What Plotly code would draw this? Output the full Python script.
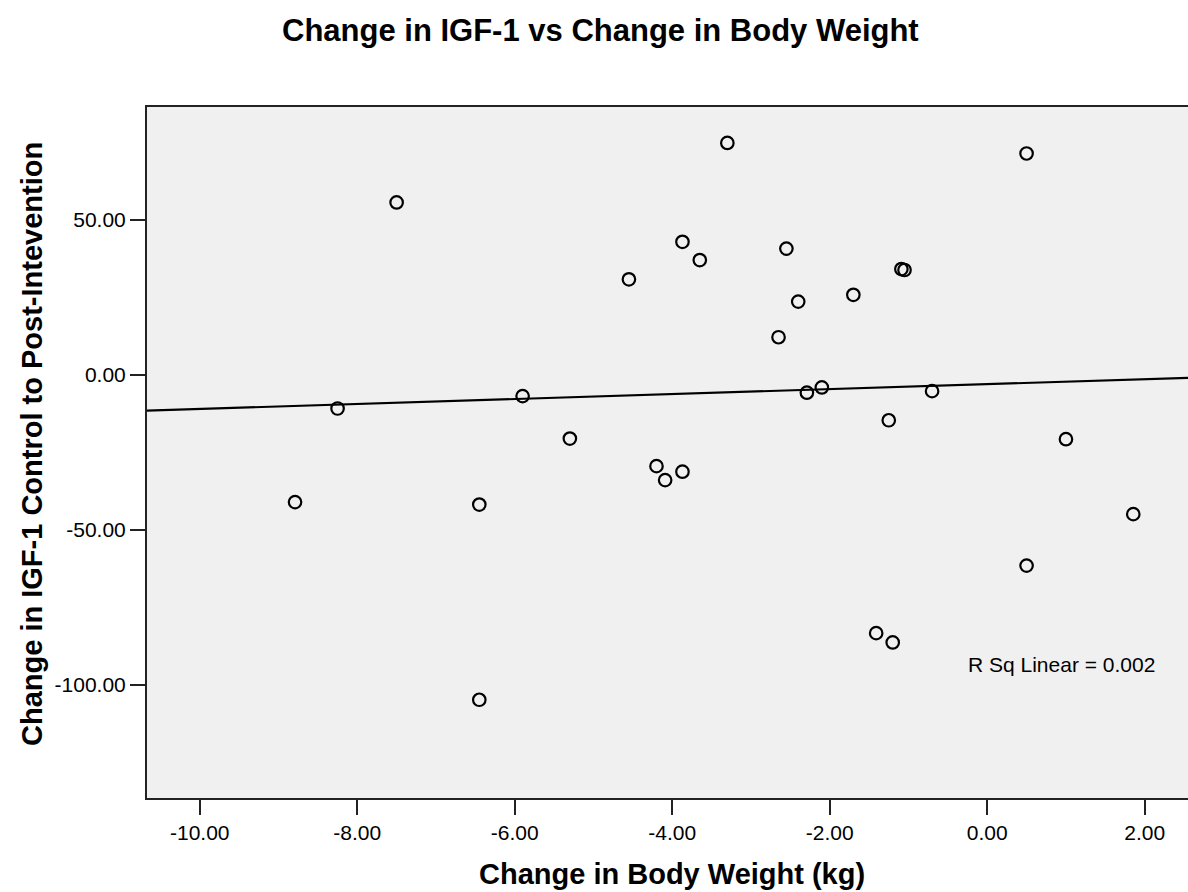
import numpy as np
import plotly.graph_objects as go

# Data
weight_change = [-7.50, -4.55, -8.25, -5.90, -5.30, -3.30, 0.50, -3.87, -3.65, -2.55,
                 -1.09, -1.05, -1.70, -2.40, -2.65, -2.29, -2.10, -0.70, -1.25, 1.00,
                 -8.79, -6.45, -6.45, -4.20, -4.09, -3.87, 1.855, 0.50, -1.41, -1.20]
igf_change = [55.7, 30.9, -10.8, -6.8, -20.5, 74.9, 71.5, 43.0, 37.1, 40.8,
              34.2, 33.9, 25.9, 23.7, 12.2, -5.7, -4.0, -5.2, -14.6, -20.7,
              -41.0, -41.8, -104.8, -29.4, -33.9, -31.2, -44.9, -61.5, -83.3, -86.3]

x_ticks = [-10, -8, -6, -4, -2, 0, 2]
x_tick_labels = ["-10.00", "-8.00", "-6.00", "-4.00", "-2.00", "0.00", "2.00"]
y_ticks = [-100, -50, 0, 50]
y_tick_labels = ["-100.00", "-50.00", "0.00", "50.00"]

x_range = [-10.67, 2.55]
y_range = [-136.5, 86.5]

title_text = "Change in IGF-1 vs Change in Body Weight"
x_title = "Change in Body Weight (kg)"
y_title = "Change in IGF-1 Control to Post-Intevention"
r2_text = "R Sq Linear = 0.002"

# linear fit line
slope, intercept = np.polyfit(weight_change, igf_change, 1)
fit_x = np.array(x_range)
fit_y = slope * fit_x + intercept

FONT = "Liberation Sans, Arial, sans-serif"

fig = go.Figure()
fig.add_trace(go.Scatter(
    x=list(fit_x), y=list(fit_y), mode="lines",
    line=dict(color="black", width=2.2), hoverinfo="skip", showlegend=False))
fig.add_trace(go.Scatter(
    x=weight_change, y=igf_change, mode="markers",
    marker=dict(symbol="circle-open", size=12.5, color="black",
                line=dict(width=2.2, color="black")),
    showlegend=False))

fig.update_layout(
    width=1188, height=892,
    margin=dict(l=147, r=0, t=107, b=94),
    paper_bgcolor="white",
    plot_bgcolor="#F0F0F0",
    font=dict(family=FONT, color="black", size=21),
    showlegend=False,
)
fig.update_xaxes(
    range=x_range, tickvals=x_ticks, ticktext=x_tick_labels,
    showgrid=False, zeroline=False,
    showline=True, linecolor="#222222", linewidth=2, mirror=True,
    ticks="outside", ticklen=15, tickwidth=2, tickcolor="#222222",
    tickfont=dict(size=21, family=FONT, color="black"),
)
fig.update_yaxes(
    range=y_range, tickvals=y_ticks, ticktext=y_tick_labels,
    showgrid=False, zeroline=False,
    showline=True, linecolor="#222222", linewidth=2, mirror=False,
    ticks="outside", ticklen=15, tickwidth=2, tickcolor="#222222",
    tickfont=dict(size=21, family=FONT, color="black"),
)

fig.add_annotation(text="<b>" + title_text + "</b>", xref="paper", yref="paper",
                   x=(600 - 147) / 1041, y=1 + (107 - 31) / 691,
                   xanchor="center", yanchor="middle", showarrow=False,
                   font=dict(size=31, family=FONT, color="black"))
fig.add_annotation(text="<b>" + x_title + "</b>", xref="paper", yref="paper",
                   x=0.504, y=-(874 - 798) / 691,
                   xanchor="center", yanchor="middle", showarrow=False,
                   font=dict(size=29, family=FONT, color="black"))
fig.add_annotation(text="<b>" + y_title + "</b>", xref="paper", yref="paper",
                   x=(32 - 147) / 1041, y=(798 - 444) / 691, textangle=-90,
                   xanchor="center", yanchor="middle", showarrow=False,
                   font=dict(size=29, family=FONT, color="black"))
fig.add_annotation(text=r2_text, xref="x", yref="y",
                   x=0.946, y=-93.5, xanchor="center", yanchor="middle",
                   showarrow=False, font=dict(size=21, family=FONT, color="black"))

fig.write_html("out.html")
